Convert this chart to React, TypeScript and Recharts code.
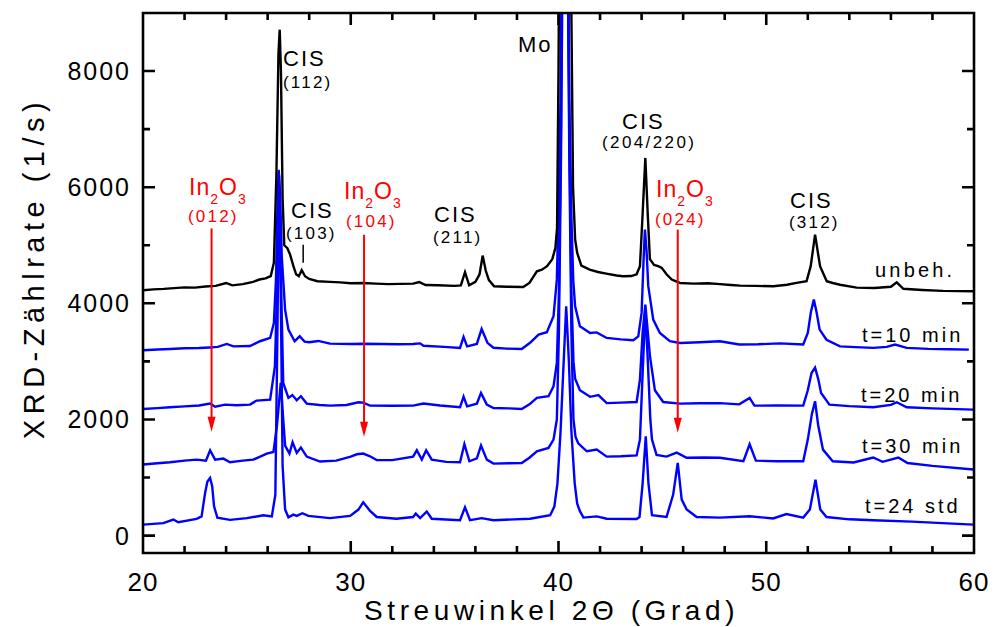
import React from "react";
import { LineChart, Line, XAxis, YAxis, ReferenceLine } from "recharts";

// ---- data (2θ in degrees, counts in 1/s) ----
const unbeh: [number, number][] = [
  [20.0, 4224], [20.5, 4240], [21.0, 4248], [21.5, 4262], [22.0, 4275], [22.5, 4270], [23.0, 4290], [23.5, 4300],
  [24.0, 4350], [24.3, 4310], [24.8, 4330], [25.3, 4370], [25.6, 4410], [25.9, 4430], [26.15, 4470], [26.3, 4700],
  [26.42, 6200], [26.52, 8300], [26.58, 8713], [26.64, 8000], [26.72, 5800], [26.8, 5000], [26.95, 4950], [27.08, 4840],
  [27.24, 4640], [27.37, 4500], [27.5, 4466], [27.64, 4570], [27.8, 4466], [28.0, 4420], [28.4, 4380], [29.0, 4370],
  [29.5, 4360], [30.0, 4345], [30.6, 4350], [31.2, 4340], [31.8, 4330], [32.4, 4335], [33.0, 4340], [33.3, 4365],
  [33.6, 4315], [34.2, 4310], [35.0, 4300], [35.3, 4310], [35.5, 4535], [35.7, 4310], [36.0, 4370], [36.2, 4500],
  [36.35, 4822], [36.5, 4560], [36.65, 4400], [36.9, 4293], [37.5, 4285], [38.3, 4282], [38.6, 4350], [38.96, 4552],
  [39.2, 4580], [39.45, 4640], [39.7, 4760], [39.85, 4950], [39.93, 5300], [40.0, 8000], [40.1, 14000], [40.3, 30000],
  [40.5, 14000], [40.62, 9000], [40.7, 6000], [40.8, 5100], [40.9, 4868], [41.1, 4650], [41.5, 4581], [41.9, 4540],
  [42.3, 4512], [42.8, 4480], [43.1, 4466], [43.5, 4470], [43.76, 4500], [43.92, 4640], [44.03, 5400], [44.18, 6504],
  [44.3, 5500], [44.4, 4760], [44.6, 4660], [44.8, 4640], [44.97, 4610], [45.2, 4500], [45.45, 4410], [45.85, 4351],
  [46.5, 4340], [47.2, 4345], [47.77, 4330], [48.3, 4315], [48.74, 4305], [49.5, 4300], [50.34, 4293], [51.0, 4320],
  [51.46, 4351], [51.94, 4380], [52.14, 4640], [52.35, 5183], [52.59, 4640], [52.91, 4380], [53.2, 4350], [53.55, 4320],
  [54.35, 4270], [55.2, 4265], [56.0, 4285], [56.28, 4362], [56.6, 4250], [57.5, 4230], [58.5, 4215], [60.0, 4207],
];

const t10: [number, number][] = [
  [20.0, 3191], [20.7, 3205], [21.3, 3214], [22.0, 3225], [22.7, 3230], [23.2, 3240], [23.6, 3250], [24.03, 3300],
  [24.35, 3259], [25.15, 3265], [25.63, 3347], [26.12, 3404], [26.3, 3662], [26.4, 4400], [26.47, 5600], [26.53, 6300],
  [26.6, 5900], [26.68, 4800], [26.84, 3892], [27.0, 3547], [27.3, 3346], [27.54, 3432], [27.78, 3340], [28.0, 3330],
  [28.44, 3352], [29.0, 3306], [30.0, 3300], [30.6, 3305], [31.5, 3300], [32.3, 3295], [33.0, 3300], [33.34, 3310],
  [33.5, 3270], [34.5, 3250], [35.26, 3232], [35.43, 3422], [35.6, 3259], [36.07, 3300], [36.3, 3559], [36.58, 3320],
  [36.87, 3235], [37.5, 3220], [38.23, 3214], [38.63, 3320], [39.04, 3461], [39.44, 3502], [39.76, 3777], [39.92, 4408],
  [40.0, 5600], [40.1, 7500], [40.2, 12000], [40.32, 20000], [40.42, 12000], [40.52, 7500], [40.62, 5500], [40.71, 4400],
  [40.8, 3950], [41.03, 3605], [41.52, 3490], [41.84, 3500], [42.32, 3404], [43.0, 3380], [43.6, 3364], [43.84, 3430],
  [44.0, 3835], [44.1, 4800], [44.16, 5269], [44.24, 4900], [44.32, 4300], [44.56, 3720], [44.88, 3490], [45.36, 3347],
  [45.85, 3318], [46.8, 3330], [47.77, 3347], [48.7, 3290], [49.6, 3295], [50.65, 3310], [51.78, 3290], [52.0, 3490],
  [52.15, 3850], [52.29, 4064], [52.42, 3850], [52.57, 3547], [52.9, 3373], [53.55, 3259], [54.3, 3245], [55.15, 3232],
  [55.8, 3250], [56.2, 3289], [56.76, 3232], [57.8, 3215], [58.8, 3210], [59.75, 3203],
];

const t20: [number, number][] = [
  [20.0, 2181], [20.7, 2195], [21.3, 2211], [22.0, 2225], [22.7, 2240], [23.23, 2273], [23.47, 2220], [23.95, 2255],
  [24.5, 2245], [25.15, 2255], [25.47, 2325], [26.12, 2342], [26.35, 2916], [26.45, 4200], [26.55, 5330], [26.63, 4600],
  [26.75, 2629], [27.0, 2371], [27.19, 2420], [27.4, 2330], [27.6, 2400], [27.88, 2273], [28.5, 2250], [29.0, 2238],
  [29.8, 2250], [30.37, 2296], [30.6, 2290], [30.93, 2238], [32.0, 2235], [33.0, 2238], [33.5, 2275], [34.3, 2240],
  [35.26, 2210], [35.43, 2393], [35.6, 2225], [36.07, 2270], [36.27, 2457], [36.55, 2255], [36.87, 2198], [37.6, 2190],
  [38.23, 2181], [38.6, 2260], [38.96, 2371], [39.52, 2400], [39.76, 2571], [39.92, 2974], [40.02, 4200], [40.12, 7000],
  [40.22, 12000], [40.32, 18000], [40.42, 12000], [40.52, 7000], [40.62, 4200], [40.72, 3000], [40.8, 2700], [41.03, 2502],
  [41.52, 2390], [41.92, 2420], [42.32, 2281], [43.0, 2290], [43.76, 2300], [43.92, 2686], [44.05, 3500], [44.18, 3978],
  [44.3, 3500], [44.4, 3100], [44.64, 2502], [45.04, 2300], [45.85, 2273], [46.8, 2280], [47.77, 2281], [48.7, 2260],
  [49.2, 2371], [49.43, 2238], [50.5, 2240], [51.78, 2238], [52.0, 2502], [52.18, 2800], [52.35, 2893], [52.5, 2700],
  [52.64, 2457], [53.04, 2255], [54.0, 2230], [55.15, 2210], [56.0, 2250], [56.28, 2296], [56.76, 2210], [58.0, 2190],
  [59.97, 2170],
];

const t30: [number, number][] = [
  [20.0, 1223], [20.7, 1245], [21.3, 1263], [22.0, 1290], [22.58, 1308], [23.03, 1290], [23.23, 1469], [23.47, 1308],
  [23.87, 1326], [24.19, 1263], [24.8, 1290], [25.31, 1308], [25.96, 1412], [26.28, 1440], [26.45, 1900], [26.63, 2629],
  [26.75, 2000], [26.84, 1550], [27.05, 1412], [27.2, 1607], [27.4, 1423], [27.6, 1515], [27.88, 1360], [28.52, 1275],
  [29.3, 1290], [30.0, 1360], [30.29, 1400], [30.6, 1412], [30.9, 1370], [31.25, 1300], [32.0, 1300], [33.0, 1360],
  [33.18, 1469], [33.42, 1308], [33.63, 1469], [33.9, 1308], [34.6, 1270], [35.26, 1263], [35.47, 1573], [35.71, 1280],
  [36.07, 1330], [36.27, 1550], [36.55, 1308], [36.87, 1240], [37.6, 1245], [38.23, 1250], [38.6, 1340], [38.96, 1452],
  [39.52, 1510], [39.76, 1653], [39.92, 1998], [40.02, 3500], [40.12, 6500], [40.22, 11000], [40.32, 17000], [40.42, 11000],
  [40.52, 6500], [40.62, 3500], [40.72, 2000], [40.82, 1700], [40.95, 1590], [41.36, 1452], [41.84, 1481], [42.32, 1360],
  [43.0, 1365], [43.76, 1380], [43.92, 1653], [44.05, 2800], [44.18, 3900], [44.3, 3000], [44.42, 2000], [44.5, 1653],
  [44.72, 1390], [45.2, 1360], [45.69, 1429], [46.17, 1340], [47.0, 1345], [47.77, 1340], [48.9, 1280], [49.2, 1573],
  [49.5, 1290], [50.5, 1280], [51.78, 1280], [52.0, 1653], [52.2, 2100], [52.35, 2313], [52.5, 1900], [52.73, 1480],
  [53.2, 1280], [54.2, 1260], [55.15, 1345], [55.6, 1270], [56.36, 1345], [56.8, 1250], [58.0, 1200], [59.97, 1137],
];

const t24std: [number, number][] = [
  [20.0, 189], [20.98, 215], [21.46, 276], [21.7, 230], [22.58, 287], [22.82, 330], [22.99, 735], [23.1, 930],
  [23.23, 993], [23.33, 850], [23.42, 505], [23.58, 307], [24.19, 270], [25.0, 300], [25.8, 350], [26.2, 330],
  [26.37, 700], [26.47, 3500], [26.55, 6200], [26.62, 4500], [26.72, 1200], [26.84, 450], [27.0, 316], [27.24, 360],
  [27.4, 340], [27.67, 385], [27.96, 340], [29.0, 300], [29.97, 340], [30.37, 448], [30.6, 574], [30.93, 425],
  [31.25, 320], [32.2, 290], [33.0, 320], [33.13, 379], [33.34, 300], [33.66, 413], [33.9, 290], [35.26, 265],
  [35.5, 488], [35.74, 265], [36.3, 300], [36.87, 265], [38.63, 290], [39.6, 350], [39.8, 500], [39.95, 900],
  [40.1, 1800], [40.25, 3000], [40.37, 3950], [40.5, 3000], [40.62, 1800], [40.78, 900], [40.9, 550], [41.03, 420],
  [41.2, 310], [41.84, 330], [42.32, 290], [43.76, 285], [43.9, 320], [44.05, 900], [44.2, 1710], [44.33, 900],
  [44.5, 350], [45.2, 320], [45.52, 706], [45.74, 1251], [45.93, 620], [46.17, 448], [46.65, 320], [47.77, 310],
  [49.2, 333], [50.33, 295], [50.97, 370], [51.78, 310], [52.1, 450], [52.37, 964], [52.6, 450], [52.9, 320],
  [54.0, 280], [55.15, 265], [57.0, 240], [59.97, 189],
];

const X_MIN = 20;
const X_MAX = 60;
const Y_MIN = -300;
const Y_MAX = 9000;
const xTicks = [20, 22, 24, 26, 28, 30, 32, 34, 36, 38, 40, 42, 44, 46, 48, 50, 52, 54, 56, 58, 60];
const yTicks = [0, 1000, 2000, 3000, 4000, 5000, 6000, 7000, 8000];

// In2O3 reflections marked with arrows: [2θ, arrow top, arrow tip]
const in2o3Arrows: [number, number, number][] = [
  [23.3, 5290, 1790],
  [30.64, 5180, 1700],
  [45.74, 5270, 1770],
];

const toPts = (a: [number, number][]) => a.map(([x, y]) => ({ x, y }));

const FONT = "'Liberation Sans', Arial, Helvetica, sans-serif";

const W = 995;
const H = 627;
const M = { top: 13, right: 21, bottom: 73, left: 142 };
const PL = M.left + 1;
const PR = W - M.right;
const PT = M.top;
const PB = H - M.bottom - 1;
const sx = (v: number) => PL + ((v - X_MIN) / (X_MAX - X_MIN)) * (PR - PL);
const sy = (v: number) => PB - ((v - Y_MIN) / (Y_MAX - Y_MIN)) * (PB - PT);

const BottomLabel = (p: any) => {
  const v = p.payload.value;
  if (v % 10 !== 0) return <g />;
  return (
    <text x={p.x} y={p.y + 38} textAnchor="middle" fontSize={26} fontFamily={FONT} fill="#000" letterSpacing={1}>
      {v}
    </text>
  );
};
const LeftLabel = (p: any) => {
  const v = p.payload.value;
  if (v % 2000 !== 0) return <g />;
  return (
    <text x={p.x - 12} y={p.y + 9} textAnchor="end" fontSize={25} fontFamily={FONT} fill="#000" letterSpacing={2}>
      {v}
    </text>
  );
};

const ArrowShape = (p: any) => {
  const { x1, y1, y2 } = p;
  const top = Math.min(y1, y2);
  const tip = Math.max(y1, y2);
  return (
    <g>
      <path d={`M${x1},${top}V${tip - 12}`} style={{ stroke: "#ff0000", strokeWidth: 2, fill: "none" }} />
      <path d={`M${x1 - 4},${tip - 15}L${x1 + 4},${tip - 15}L${x1},${tip}Z`} style={{ fill: "#ff0000", stroke: "none" }} />
    </g>
  );
};

const Sub = ({ x, y, fill }: { x: number; y: number; fill: string }) => (
  <text x={x} y={y} fontSize={23} fontFamily={FONT} fill={fill} letterSpacing={1}>
    In<tspan fontSize={14} dy={9}>2</tspan>
    <tspan fontSize={23} dy={-9}>O</tspan>
    <tspan fontSize={14} dy={9}>3</tspan>
  </text>
);

const T = ({ x, y, s, size, ls, fill = "#000" }: any) => (
  <text x={x} y={y} fontSize={size} fontFamily={FONT} fill={fill} letterSpacing={ls}>
    {s}
  </text>
);

const LW = 2.4;

function frameAndTicks(): string {
  let d = `M${PL},${PT}H${PR}V${PB}H${PL}Z`;
  for (const v of xTicks) {
    const len = v % 10 === 0 ? 12 : 7;
    const x = sx(v);
    d += `M${x},${PB}V${PB - len}M${x},${PT}V${PT + len}`;
  }
  for (const v of yTicks) {
    const len = v % 2000 === 0 ? 12 : 7;
    const y = sy(v);
    d += `M${PL},${y}H${PL + len}M${PR},${y}H${PR - len}`;
  }
  return d;
}

export default function App() {
  return (
    <div style={{ position: "absolute", left: 0, top: 0, width: W, height: H, background: "#fff" }}>
      <LineChart width={W} height={H} margin={M}>
        <XAxis
          dataKey="x"
          type="number"
          domain={[X_MIN, X_MAX]}
          allowDataOverflow
          ticks={xTicks}
          interval={0}
          height={1}
          tickSize={0}
          tickMargin={0}
          tickLine={false}
          axisLine={false}
          tick={BottomLabel}
        />
        <YAxis
          type="number"
          domain={[Y_MIN, Y_MAX]}
          allowDataOverflow
          ticks={yTicks}
          interval={0}
          width={1}
          tickSize={0}
          tickMargin={0}
          tickLine={false}
          axisLine={false}
          tick={LeftLabel}
        />
        {[t24std, t30, t20, t10].map((d, i) => (
          <Line
            key={i}
            data={toPts(d)}
            dataKey="y"
            type="linear"
            stroke="#0000ff"
            strokeWidth={LW}
            dot={false}
            isAnimationActive={false}
          />
        ))}
        <Line
          data={toPts(unbeh)}
          dataKey="y"
          type="linear"
          stroke="#000"
          strokeWidth={LW}
          dot={false}
          isAnimationActive={false}
        />
        {in2o3Arrows.map(([x, top, tip], i) => (
          <ReferenceLine key={"a" + i} segment={[{ x, y: top }, { x, y: tip }]} stroke="#ff0000" shape={ArrowShape} />
        ))}
        <ReferenceLine segment={[{ x: 27.71, y: 5010 }, { x: 27.71, y: 4700 }]} stroke="#000" strokeWidth={1.5} />
      </LineChart>
      <svg width={W} height={H} style={{ position: "absolute", left: 0, top: 0, pointerEvents: "none" }}>
        <path d={frameAndTicks()} style={{ fill: "none", stroke: "#000000", strokeWidth: 2.6 }} />
        <text
          x={0}
          y={0}
          transform="translate(44,268) rotate(-90)"
          textAnchor="middle"
          fontSize={29}
          fontFamily={FONT}
          letterSpacing={5.5}
        >
          XRD-Zählrate (1/s)
        </text>
        <text x={364} y={620} fontSize={28} fontFamily={FONT} letterSpacing={4.6}>
          Streuwinkel 2Θ (Grad)
        </text>
        <T x={283} y={66} s="CIS" size={22} ls={2} />
        <T x={283} y={88} s="(112)" size={17} ls={2.2} />
        <T x={291} y={218} s="CIS" size={22} ls={2} />
        <T x={286} y={239} s="(103)" size={17} ls={2.2} />
        <T x={434} y={222} s="CIS" size={22} ls={2} />
        <T x={433} y={243} s="(211)" size={17} ls={2.2} />
        <T x={518} y={52} s="Mo" size={22} ls={2} />
        <T x={622} y={129} s="CIS" size={22} ls={2} />
        <T x={602} y={148} s="(204/220)" size={17} ls={2.4} />
        <T x={790} y={208} s="CIS" size={22} ls={2} />
        <T x={789} y={228} s="(312)" size={17} ls={2.2} />
        <Sub x={189} y={195} fill="#ff0000" />
        <T x={188} y={222} s="(012)" size={17} ls={2.2} fill="#ff0000" />
        <Sub x={344} y={199} fill="#ff0000" />
        <T x={346} y={227} s="(104)" size={17} ls={2.2} fill="#ff0000" />
        <Sub x={656} y={197} fill="#ff0000" />
        <T x={655} y={225} s="(024)" size={17} ls={2.2} fill="#ff0000" />
        <T x={875} y={277} s="unbeh." size={20} ls={3.2} />
        <T x={862} y={342} s="t=10 min" size={20} ls={3} />
        <T x={861} y={402} s="t=20 min" size={20} ls={3} />
        <T x={862} y={453} s="t=30 min" size={20} ls={3} />
        <T x={865} y={513} s="t=24 std" size={20} ls={3} />
      </svg>
    </div>
  );
}
